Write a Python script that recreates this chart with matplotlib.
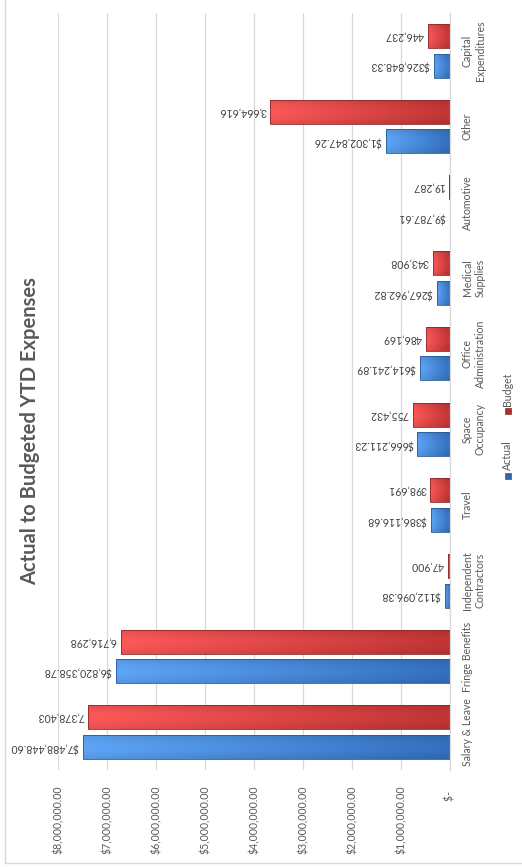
import matplotlib
matplotlib.use("Agg")
import matplotlib.pyplot as plt
import numpy as np
from matplotlib.patches import Rectangle
from matplotlib.lines import Line2D
from matplotlib.colors import to_rgb

# ---------------- data ----------------
categories = ["Salary & Leave", "Fringe Benefits", "Independent\nContractors", "Travel",
              "Space\nOccupancy", "Office\nAdministration", "Medical\nSupplies",
              "Automotive", "Other", "Capital\nExpenditures"]
actual = [7488448.60, 6820358.78, 112096.38, 386116.68, 666211.23,
          614241.89, 267962.82, 9787.61, 1302847.26, 326848.33]
budget = [7378403, 6716298, 47900, 398691, 755432,
          486169, 343908, 19287, 3664616, 446237]
value_ticks = [0, 1000000, 2000000, 3000000, 4000000, 5000000, 6000000, 7000000, 8000000]
value_tick_labels = ["$-  ", "$1,000,000.00", "$2,000,000.00", "$3,000,000.00", "$4,000,000.00",
                     "$5,000,000.00", "$6,000,000.00", "$7,000,000.00", "$8,000,000.00"]
series_names = ["Actual", "Budget"]
title = "Actual to Budgeted YTD Expenses"

# ---------------- style ----------------
plt.rcParams["font.family"] = ["Lato", "DejaVu Sans"]
W, H = 522, 867
fig = plt.figure(figsize=(W / 100, H / 100), dpi=100)
fig.patch.set_facecolor("white")

ax = fig.add_axes([58 / W, 1 - 770 / H, (450 - 58) / W, (770 - 13) / H])

text_gray = "#595959"
grid_gray = "#D9D9D9"
fs = 7.6
blue_light, blue_dark, blue_edge = "#5596E0", "#2F66AE", "#2A5A96"
red_light, red_dark, red_edge = "#E65050", "#B03030", "#8E2828"

off = 0.195
bh = 0.317
y = np.arange(len(categories))

def gradient_bars(bars, c_light, c_dark):
    cl = np.array(to_rgb(c_light)); cd = np.array(to_rgb(c_dark))
    t = np.linspace(0, 1, 64)
    along = cd[None, :] * (1 - t[:, None]) + cl[None, :] * t[:, None]  # baseline -> end
    across = 1 + 0.10 * np.sin(np.linspace(0, np.pi, 16))  # slight bevel highlight
    img = np.clip(across[:, None, None] * along[None, :, :], 0, 1)
    for b in bars:
        x0, y0, w, h = b.get_x(), b.get_y(), b.get_width(), b.get_height()
        im = ax.imshow(img, extent=(x0, x0 + w, y0, y0 + h), origin="lower",
                       aspect="auto", zorder=2.5, interpolation="bilinear")
        im.set_clip_path(b)

bars_a = ax.barh(y - off, actual, height=bh, color=blue_dark, zorder=2)
bars_b = ax.barh(y + off, budget, height=bh, color=red_dark, zorder=2)
gradient_bars(bars_a, blue_light, blue_dark)
gradient_bars(bars_b, red_light, red_dark)
ax.barh(y - off, actual, height=bh, facecolor="none", edgecolor=blue_edge, linewidth=0.6, zorder=3)
ax.barh(y + off, budget, height=bh, facecolor="none", edgecolor=red_edge, linewidth=0.6, zorder=3)

ax.set_xlim(8000000, 0)
ax.set_ylim(-0.5, len(categories) - 0.5)

ax.set_xticks(value_ticks)
ax.set_xticklabels(value_tick_labels, rotation=90, ha="center", va="top",
                   fontsize=fs, color=text_gray)
ax.tick_params(axis="x", length=0, pad=11)

ax.yaxis.tick_right()
ax.set_yticks(y)
ax.set_yticklabels(categories, rotation=90, ha="left", va="center",
                   multialignment="center", fontsize=fs, color=text_gray)
ax.tick_params(axis="y", length=0, pad=8.5)

ax.grid(axis="x", color=grid_gray, linewidth=0.9, zorder=0)
ax.set_axisbelow(True)
for s in ["top", "left", "bottom"]:
    ax.spines[s].set_visible(False)
ax.spines["right"].set_color(grid_gray)
ax.spines["right"].set_linewidth(0.9)

# data labels
for i, v in enumerate(actual):
    ax.annotate(f"${v:,.2f}", xy=(v, i - off), xytext=(-3, 0), textcoords="offset points",
                rotation=180, ha="right", va="center", fontsize=fs, color="#404040")
for i, v in enumerate(budget):
    ax.annotate(f"{v:,.0f}", xy=(v, i + off), xytext=(-3, 0), textcoords="offset points",
                rotation=180, ha="right", va="center", fontsize=fs, color="#404040")

# title
fig.text(30 / W, 1 - 431 / H, title, rotation=90, ha="center", va="center",
         fontsize=14.5, fontweight="bold", color=text_gray)

# legend (rotated, drawn manually)
def px(xp, yp):
    return xp / W, 1 - yp / H

sq = 6
for name, col, edge, sy in [(series_names[0], blue_dark, blue_edge, 475.5),
                             (series_names[1], red_dark, red_edge, 411.5)]:
    fx, fy = px(507.5 - sq / 2, sy + sq / 2)
    fig.add_artist(Rectangle((fx, fy), sq / W, sq / H, transform=fig.transFigure,
                             facecolor=col, edgecolor=edge, linewidth=0.5))
    tx, tyf = px(507.5, sy - sq / 2 - 3)
    fig.text(tx, tyf, name, rotation=90, ha="center", va="bottom", fontsize=fs, color=text_gray)

# chart border
fig.add_artist(Line2D([5 / W, 5 / W], [1 - 863 / H, 1.01], transform=fig.transFigure,
                      color=grid_gray, linewidth=1))
fig.add_artist(Line2D([5 / W, 1.01], [1 - 863 / H, 1 - 863 / H], transform=fig.transFigure,
                      color=grid_gray, linewidth=1))

fig.savefig("out.png", dpi=100)
